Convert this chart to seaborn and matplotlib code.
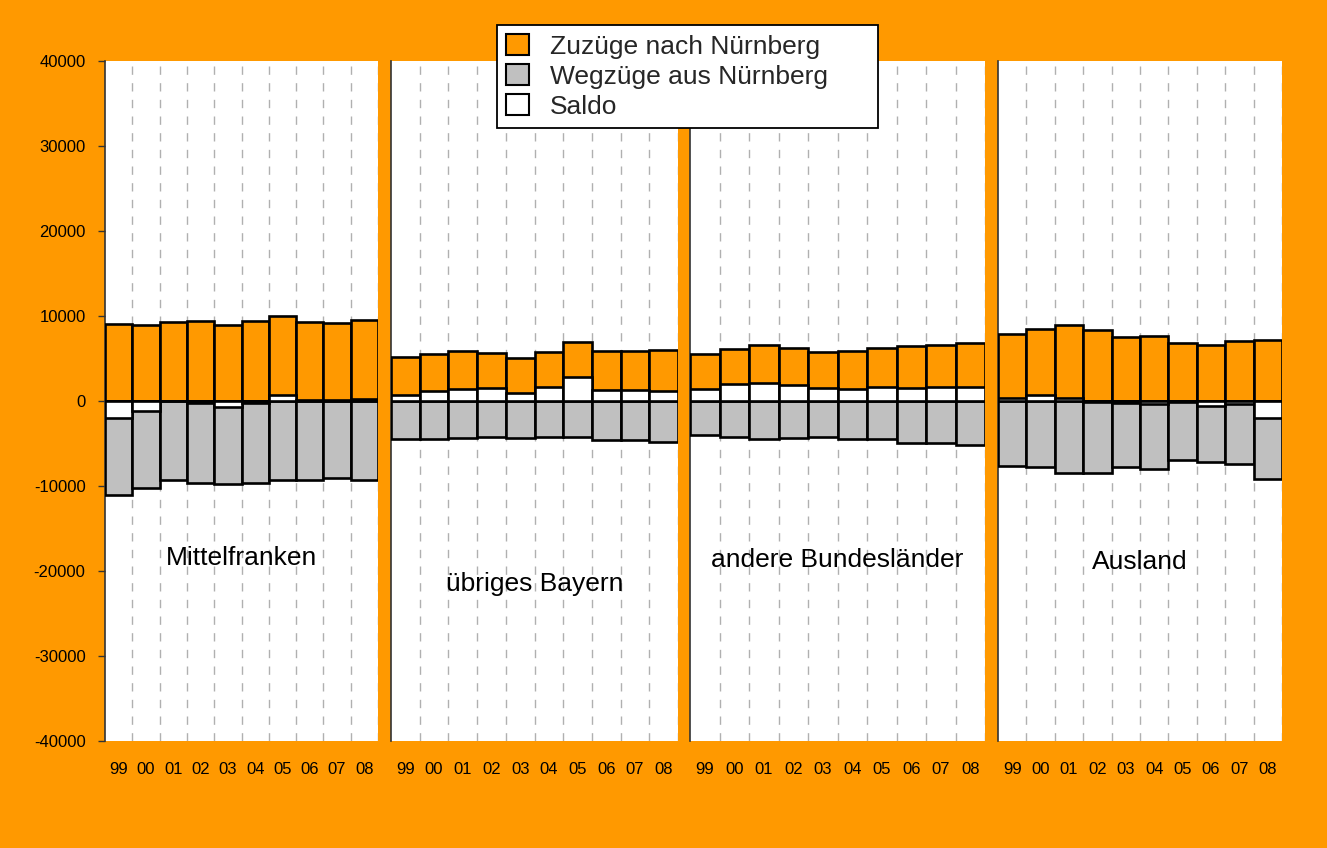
import pandas as pd
import matplotlib.pyplot as plt
from matplotlib.patches import Patch
import seaborn as sns

sns.set_theme(style="white")
plt.rcParams['font.family'] = ['Liberation Sans', 'DejaVu Sans']
plt.rcParams['axes.unicode_minus'] = False

# --- data ---
years = ["99", "00", "01", "02", "03", "04", "05", "06", "07", "08"]
regions = ["Mittelfranken", "übriges Bayern", "andere Bundesländer", "Ausland"]

zu_mittelfranken = [9080, 9000, 9240, 9390, 8960, 9390, 10020, 9350, 9200, 9550]
weg_mittelfranken = [-11000, -10210, -9270, -9670, -9740, -9670, -9270, -9270, -9040, -9270]
saldo_mittelfranken = [-1950, -1200, -30, -280, -750, -280, 650, 80, 160, 280]

zu_bayern = [5140, 5530, 5840, 5610, 5060, 5760, 6940, 5840, 5840, 6000]
weg_bayern = [-4430, -4510, -4350, -4200, -4350, -4200, -4200, -4590, -4590, -4820]
saldo_bayern = [670, 1140, 1450, 1530, 900, 1610, 2860, 1290, 1290, 1220]

zu_laender = [5530, 6080, 6630, 6240, 5760, 5840, 6240, 6470, 6630, 6860]
weg_laender = [-4040, -4270, -4510, -4350, -4270, -4510, -4510, -4900, -4980, -5140]
saldo_laender = [1450, 2000, 2160, 1920, 1530, 1370, 1690, 1530, 1610, 1690]

zu_ausland = [7930, 8470, 8940, 8400, 7530, 7690, 6820, 6590, 7060, 7140]
weg_ausland = [-7600, -7760, -8470, -8470, -7760, -8000, -6980, -7210, -7370, -9180]
saldo_ausland = [320, 700, 400, -70, -230, -310, -160, -620, -310, -2040]

zuzuege = [zu_mittelfranken, zu_bayern, zu_laender, zu_ausland]
wegzuege = [weg_mittelfranken, weg_bayern, weg_laender, weg_ausland]
saldo = [saldo_mittelfranken, saldo_bayern, saldo_laender, saldo_ausland]

ORANGE = "#FF9900"
GRAY = "#C0C0C0"

W, H = 1327, 848
fig = plt.figure(figsize=(W / 100, H / 100), dpi=100, facecolor=ORANGE)

# panel pixel extents in the reference
panel_left = [105, 391, 690, 998]
panel_right = [378, 678, 985, 1282]
top, bottom = 61, 741
label_y = [-18470, -21530, -18700, -18940]

for i in range(4):
    ax = fig.add_axes([panel_left[i] / W, 1 - bottom / H,
                       (panel_right[i] - panel_left[i]) / W, (bottom - top) / H])
    ax.set_facecolor("white")
    df = pd.DataFrame({"Jahr": years, "Zuzüge": zuzuege[i],
                       "Wegzüge": wegzuege[i], "Saldo": saldo[i]})
    for col, c in [("Zuzüge", ORANGE), ("Wegzüge", GRAY), ("Saldo", "white")]:
        sns.barplot(data=df, x="Jahr", y=col, color=c, saturation=1, width=1,
                    edgecolor="black", linewidth=1.9, errorbar=None, ax=ax, zorder=3)

    # dashed separators between the year columns
    for k in range(10):
        ax.axvline(k + 0.5, color="#B0B0B0", lw=1, ls=(0, (6, 6)), zorder=1)

    ax.set_xlim(-0.5, 9.5)
    ax.set_ylim(-40000, 40000)
    ax.set_yticks(range(-40000, 40001, 10000))
    ax.set_xlabel("")
    ax.set_ylabel("")
    ax.grid(False)
    ax.tick_params(axis="x", length=0, pad=15, labelsize=12, colors="black")
    for s in ["top", "right", "bottom"]:
        ax.spines[s].set_visible(False)
    ax.spines["left"].set_color("#333333")
    ax.spines["left"].set_linewidth(1.2)

    if i == 0:
        ax.tick_params(axis="y", left=True, length=5, width=1, color="#333333",
                       pad=9, labelsize=12, labelcolor="black")
    else:
        ax.tick_params(axis="y", left=False, labelleft=False)

    ax.text(4.5, label_y[i], regions[i], ha="center", va="center",
            fontsize=19, color="black", zorder=5)

handles = [Patch(facecolor=ORANGE, edgecolor="black", linewidth=1.5),
           Patch(facecolor=GRAY, edgecolor="black", linewidth=1.5),
           Patch(facecolor="white", edgecolor="black", linewidth=1.5)]
labels = ["Zuzüge nach Nürnberg", "Wegzüge aus Nürnberg", "Saldo"]
leg = fig.legend(handles, labels, loc="upper left",
                 bbox_to_anchor=(497 / W, 1 - 128 / H, 381 / W, 103 / H),
                 mode="expand", frameon=True, fancybox=False, framealpha=1,
                 edgecolor="black", facecolor="white", fontsize=19,
                 handlelength=0.85, handleheight=0.85, handletextpad=0.8,
                 labelspacing=0.2, borderpad=0.35, borderaxespad=0)
leg.get_frame().set_linewidth(1.3)

fig.savefig("out.png", dpi=100, facecolor=ORANGE)
